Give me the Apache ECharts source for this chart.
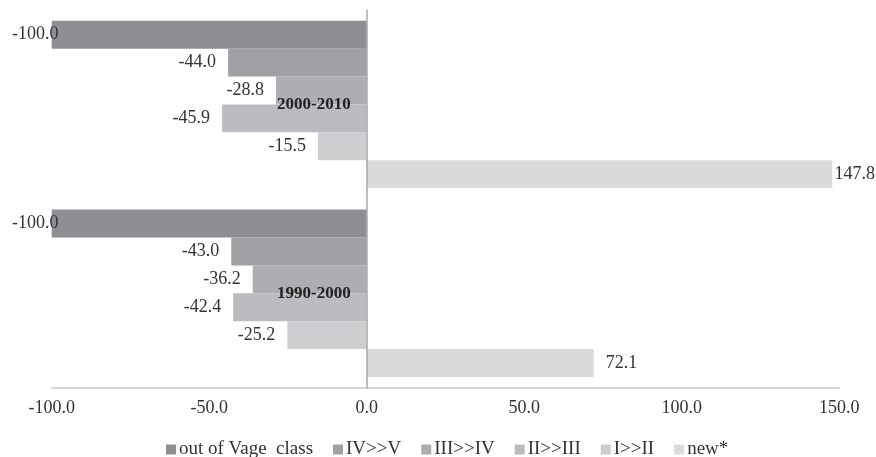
<!DOCTYPE html>
<html>
<head>
<meta charset="utf-8">
<script src="https://cdn.jsdelivr.net/npm/echarts@6/dist/echarts.min.js"></script>
<style>html,body{margin:0;padding:0;background:#fff}#c{width:876px;height:457px}</style>
</head>
<body>
<div id="c"></div>
<script>
const categories = ['2000-2010', '1990-2000'];
const seriesNames = ['out of Vage  class', 'IV>>V', 'III>>IV', 'II>>III', 'I>>II', 'new*'];
const outOfVage = [-100.0, -100.0];
const ivToV = [-44.0, -43.0];
const iiiToIv = [-28.8, -36.2];
const iiToIii = [-45.9, -42.4];
const iToIi = [-15.5, -25.2];
const newStar = [147.8, 72.1];
const xTicks = [-100, -50, 0, 50, 100, 150];

const seriesValues = [outOfVage, ivToV, iiiToIv, iiToIii, iToIi, newStar];
const colors = ['#8e8f93', '#a0a1a5', '#adaeb1', '#bbbcbf', '#cdced0', '#dadbdd'];
const FONT = 'Liberation Serif';

const W = 876, GL = 51.7, GR = 36.8;
const xMin = xTicks[0], xMax = xTicks[xTicks.length - 1];
const zeroOffset = (W - GL - GR) * (0 - xMin) / (xMax - xMin);

const chart = echarts.init(document.getElementById('c'), null, {renderer: 'canvas'});
chart.setOption({
  animation: false,
  color: colors,
  grid: {left: GL, right: GR, top: 10, bottom: 69.3, containLabel: false, outerBoundsMode: 'none'},
  legend: {
    data: seriesNames,
    left: 166,
    top: 440,
    padding: 0,
    icon: 'rect',
    itemWidth: 10,
    itemHeight: 10,
    itemGap: 20,
    textStyle: {fontFamily: FONT, fontSize: 19, color: '#333', padding: [0, 0, 0, -2]}
  },
  xAxis: {
    type: 'value',
    min: xMin,
    max: xMax,
    interval: 50,
    splitLine: {show: false},
    axisTick: {show: false},
    axisLine: {show: true, lineStyle: {color: '#c8c8c8', width: 1.5}},
    axisLabel: {fontFamily: FONT, fontSize: 18, color: '#333', margin: 12,
      formatter: v => v.toFixed(1)}
  },
  yAxis: {
    type: 'category',
    data: categories,
    inverse: true,
    position: 'left',
    offset: -zeroOffset,
    z: 5,
    axisTick: {show: false},
    axisLine: {show: true, onZero: false, lineStyle: {color: '#a8a8a8', width: 1.5}},
    axisLabel: {fontFamily: FONT, fontSize: 17, fontWeight: 'bold', color: '#222', margin: 16}
  },
  series: seriesNames.map((name, i) => ({
    name: name,
    type: 'bar',
    barGap: '0%',
    barCategoryGap: '11.4%',
    data: seriesValues[i].map(v => ({
      value: v,
      label: {position: v < 0 ? 'left' : 'right'}
    })),
    label: {
      show: true,
      distance: 12,
      fontFamily: FONT,
      fontSize: 18,
      color: '#333',
      formatter: p => p.value.toFixed(1)
    },
    labelLayout: function (params) {
      const r = params.labelRect;
      let dx = 0;
      if (r.x < 12) dx = 12 - r.x;
      else if (r.x + r.width > 875) dx = 875 - (r.x + r.width);
      return {dx: dx};
    }
  }))
});
</script>
</body>
</html>
